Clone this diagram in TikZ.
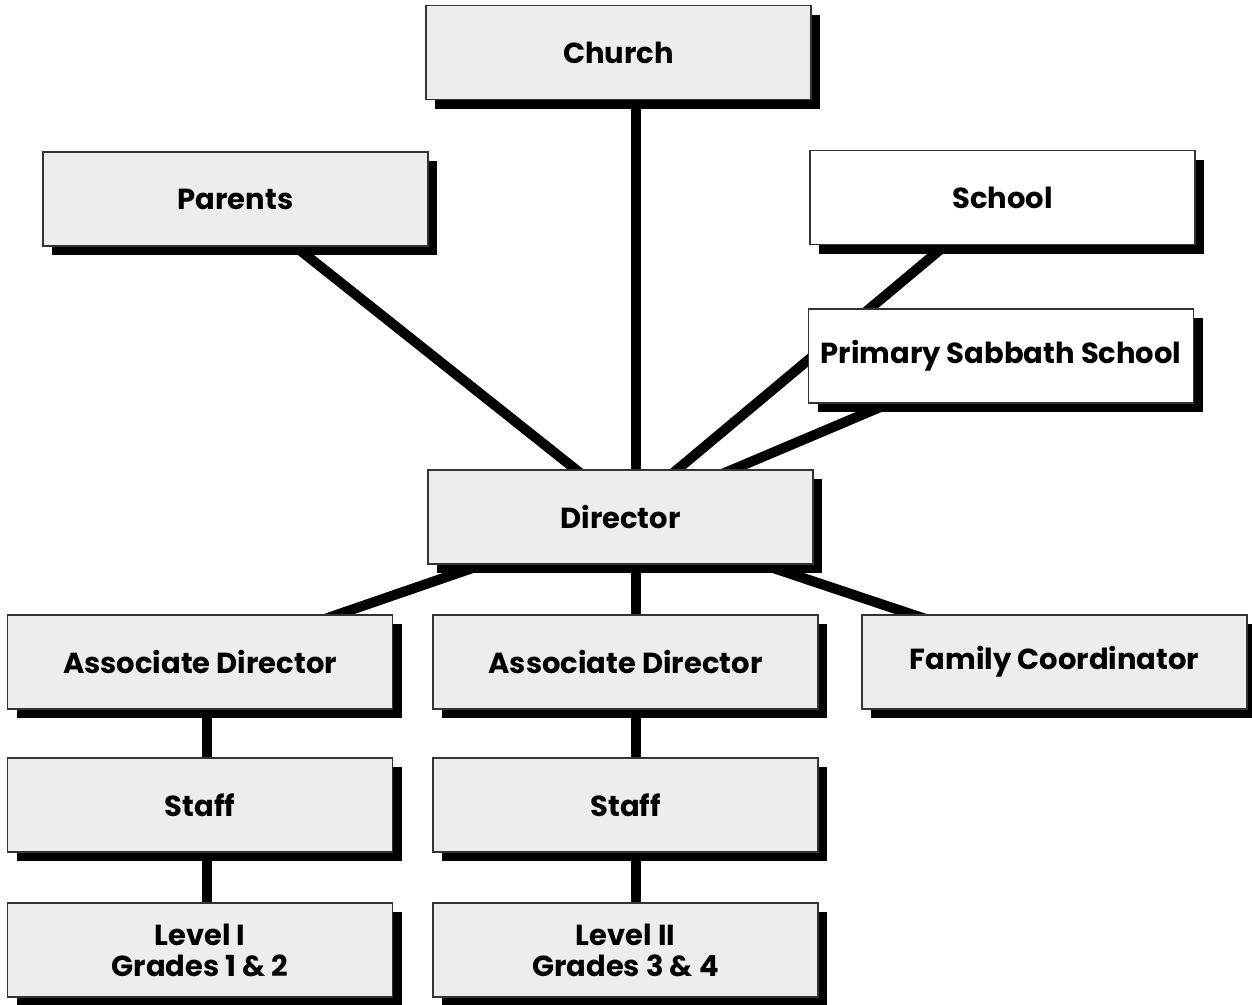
\documentclass[tikz,border=0pt]{standalone}
\usepackage{fontspec}
\setmainfont{Poppins}
\usetikzlibrary{shadows,backgrounds}
\tikzset{
	org/.style={draw=black!80,line width=1.1pt,fill=black!7,minimum width=385pt,minimum height=94pt,inner sep=0pt,align=center,
		font=\bfseries\fontsize{29}{31}\selectfont,
		drop shadow={shadow xshift=9pt,shadow yshift=-9pt,opacity=1,fill=black}},
	orgwhite/.style={org,fill=white},
	link/.style={line width=10pt}
}

\begin{document}
\begin{tikzpicture}[x=1pt,y=-1pt]
	\useasboundingbox (0,0) rectangle (1252,1004);
	
	%BOXES
	\node[org] (church) at (618.5,52.5) {Church};
	\node[org] (parents) at (235.5,199) {Parents};
	\node[orgwhite] (school) at (1002.5,197.5) {School};
	\node[orgwhite] (pss) at (1001,356) {Primary Sabbath School};
	\node[org] (director) at (620.5,517) {Director};
	%
	\node[org] (ad1) at (200,662) {Associate Director};
	\node[org] (ad2) at (625.5,662) {Associate Director};
	\node[org] (fc) at (1054.5,662) {Family Coordinator};
	%
	\node[org] (staff1) at (200,805) {Staff};
	\node[org] (staff2) at (625.5,805) {Staff};
	%
	\node[org] (lvl1) at (200,950) {Level I\\Grades 1 \& 2};
	\node[org] (lvl2) at (625.5,950) {Level II\\Grades 3 \& 4};
	
	%LINES
	\coordinate (spine) at (635.5,0);
	\begin{scope}[on background layer]
		\draw[link] (church.center -| spine)--(director.center -| spine);
		\draw[link] (parents.center)--([xshift=15pt]director.center);
		\draw[link] (school.center)--(director.center);
		\draw[link] (pss.center)--(director.center);
		%
		\draw[link] (director.center)--(ad1.center);
		\draw[link] (director.center -| spine)--(ad2.center -| spine);
		\draw[link] (director.center)--(fc.center);
		%
		\draw[link] ([xshift=7pt]ad1.center)--([xshift=7pt]lvl1.center);
		\draw[link] (ad2.center -| spine)--(lvl2.center -| spine);
	\end{scope}
\end{tikzpicture}
\end{document}
